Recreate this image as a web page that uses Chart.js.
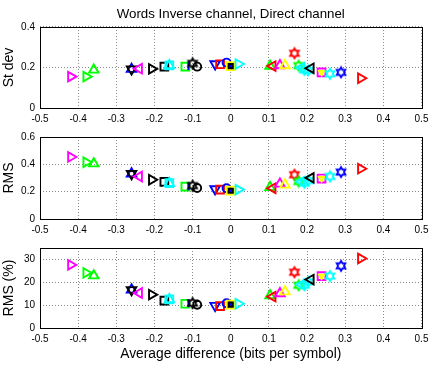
<!DOCTYPE html>
<html>
<head>
<meta charset="utf-8">
<script src="https://cdn.jsdelivr.net/npm/chart.js@4.4.0/dist/chart.umd.min.js"></script>
<style>
  body { margin: 0; background: #fff; }
  #wrap { position: relative; width: 434px; height: 369px; }
  canvas { position: absolute; left: 0; }
</style>
</head>
<body>
<div id="wrap">
  <canvas id="sdChart" width="434" height="126" style="top:0px"></canvas>
  <canvas id="rmsChart" width="434" height="111" style="top:126px"></canvas>
  <canvas id="pctChart" width="434" height="132" style="top:237px"></canvas>
</div>
<script>
// one entry per plotted item, same order in every array
const avgDiff = [-0.419, -0.379, -0.359, -0.26, -0.26, -0.24, -0.207, -0.174, -0.161, -0.161,
  -0.119, -0.111, -0.1, -0.088, -0.041, -0.028, -0.011, 0, 0, 0.02,
  0.103, 0.11, 0.129, 0.142, 0.167, 0.178, 0.186, 0.193, 0.203, 0.21,
  0.238, 0.238, 0.26, 0.289, 0.341];
const stDev = [0.155, 0.155, 0.188, 0.192, 0.192, 0.194, 0.193, 0.204, 0.21, 0.21,
  0.204, 0.207, 0.22, 0.204, 0.217, 0.216, 0.224, 0.207, 0.207, 0.217,
  0.207, 0.207, 0.21, 0.21, 0.27, 0.209, 0.199, 0.188, 0.186, 0.196,
  0.176, 0.176, 0.169, 0.176, 0.147];
const rms = [0.454, 0.415, 0.405, 0.331, 0.331, 0.311, 0.287, 0.272, 0.262, 0.262,
  0.237, 0.24, 0.244, 0.227, 0.22, 0.215, 0.225, 0.207, 0.207, 0.215,
  0.232, 0.225, 0.257, 0.25, 0.324, 0.274, 0.274, 0.264, 0.281, 0.301,
  0.296, 0.296, 0.311, 0.343, 0.368];
const rmsPct = [27.6, 24.1, 22.9, 16.7, 16.7, 15.3, 14.6, 12.0, 12.5, 12.5,
  10.6, 10.9, 10.9, 10.2, 9.8, 9.6, 10.8, 10.2, 10.2, 10.6,
  14.2, 13.7, 15.1, 15.9, 24.4, 18.7, 19.0, 18.7, 20.2, 21.2,
  22.7, 22.7, 22.7, 27.2, 30.4];
const markers = ['>', '>', '^', '^', 'v', '<', '>', 's', 's', '^',
  's', '|', 'h', 'o', 'v', 's', 'o', 's', '.s', '>',
  '^', '<', '^', '^', 'h', 'h', '<', 'h', 'h', '<',
  's', '.v', 'h', 'h', '>'];
const colors = ['m', 'g', 'g', 'b', 'k', 'm', 'k', 'k', 'c', 'c',
  'g', 'b', 'k', 'k', 'b', 'r', 'b', 'y', 'k', 'c',
  'g', 'r', 'm', 'y', 'r', 'g', 'c', 'c', 'c', 'k',
  'm', 'y', 'c', 'b', 'r'];
const xTicks = [-0.5, -0.4, -0.3, -0.2, -0.1, 0, 0.1, 0.2, 0.3, 0.4, 0.5];
const sdTicks = [0, 0.2, 0.4];
const rmsTicks = [0, 0.2, 0.4, 0.6];
const pctTicks = [0, 10, 20, 30];

const RGB = { r: '#ff0000', g: '#00ff00', b: '#0000ff', c: '#00ffff', m: '#ff00ff', y: '#ffff00', k: '#000000' };
const FONT = 'Liberation Sans, Arial, Helvetica, sans-serif';

const hexCache = {};
function hexagram(color) {
  if (hexCache[color]) return hexCache[color];
  const c = document.createElement('canvas');
  c.width = c.height = 14;
  const g = c.getContext('2d');
  g.strokeStyle = color;
  g.lineWidth = 1.8;
  g.beginPath();
  for (let k = 0; k < 12; k++) {
    const a = -Math.PI / 2 + k * Math.PI / 6;
    const r = k % 2 ? 2.9 : 5;
    const px = 7 + r * Math.cos(a), py = 7 + r * Math.sin(a);
    if (k) g.lineTo(px, py); else g.moveTo(px, py);
  }
  g.closePath();
  g.stroke();
  hexCache[color] = c;
  return c;
}

function shape(m, col) {
  switch (m) {
    case '^': return { style: 'triangle', rot: 0, r: 5.5 };
    case '>': return { style: 'triangle', rot: 90, r: 5.5 };
    case 'v': return { style: 'triangle', rot: 180, r: 5.5 };
    case '<': return { style: 'triangle', rot: 270, r: 5.5 };
    case 's': return { style: 'rect', rot: 0, r: 5.5 };
    case 'o': return { style: 'circle', rot: 0, r: 4 };
    case '|': return { style: 'line', rot: 90, r: 4 };
    case '.s': return { style: 'rect', rot: 0, r: 3, fill: RGB.b };
    case '.v': return { style: 'triangle', rot: 180, r: 3 };
    case 'h': return { style: hexagram(col), rot: 0, r: 5 };
  }
}

const boxPlugin = {
  id: 'box',
  beforeDatasetsDraw(chart) {
    const a = chart.chartArea, ctx = chart.ctx;
    ctx.save();
    ctx.strokeStyle = '#000';
    ctx.lineWidth = 1;
    ctx.strokeRect(Math.round(a.left) + 0.5, Math.round(a.top) + 0.5,
      Math.round(a.right - a.left), Math.round(a.bottom - a.top));
    ctx.restore();
  }
};

function makeChart(id, yValues, yMax, yTicks, yLabel, cfg) {
  const shapes = markers.map((m, i) => shape(m, RGB[colors[i]]));
  const points = avgDiff.map((x, i) => ({ x: x, y: yValues[i] }));
  return new Chart(document.getElementById(id), {
    type: 'scatter',
    data: {
      datasets: [{
        data: points,
        pointStyle: shapes.map(s => s.style),
        pointRotation: shapes.map(s => s.rot),
        pointRadius: shapes.map(s => s.r),
        pointBorderColor: colors.map(c => RGB[c]),
        pointBackgroundColor: shapes.map(s => s.fill || 'rgba(0,0,0,0)'),
        pointBorderWidth: 1.9
      }]
    },
    options: {
      responsive: false,
      animation: false,
      events: [],
      layout: { padding: { left: 0, right: 12.5, top: cfg.padTop, bottom: 0 } },
      plugins: {
        legend: { display: false },
        tooltip: { enabled: false },
        title: cfg.title ? {
          display: true, text: cfg.title, fullSize: false, color: '#000',
          font: { family: FONT, size: 13.3, weight: 'normal' },
          padding: { top: 6, bottom: 5 }
        } : { display: false }
      },
      scales: {
        x: {
          type: 'linear', min: -0.5, max: 0.5,
          afterBuildTicks: s => { s.ticks = xTicks.map(v => ({ value: v })); },
          afterFit: s => { s.height = cfg.xHeight; },
          ticks: { color: '#000', font: { family: FONT, size: 10 }, padding: 5, maxRotation: 0, autoSkip: false,
            callback: v => String(v) },
          grid: { color: '#8a8a8a', lineWidth: 1, drawTicks: false },
          border: { display: false, dash: [1, 2] },
          title: cfg.xLabel ? {
            display: true, text: cfg.xLabel, color: '#000',
            font: { family: FONT, size: 13.8 }, padding: { top: 0, bottom: 7 }
          } : { display: false }
        },
        y: {
          type: 'linear', min: 0, max: yMax,
          afterBuildTicks: s => { s.ticks = yTicks.map(v => ({ value: v })); },
          afterFit: s => { s.width = 40; },
          ticks: { color: '#000', font: { family: FONT, size: 10 }, padding: 5, autoSkip: false,
            callback: v => String(v) },
          grid: { color: '#8a8a8a', lineWidth: 1, drawTicks: false },
          border: { display: false, dash: [1, 2] },
          title: { display: true, text: yLabel, color: '#000',
            font: { family: FONT, size: 14 }, padding: { top: 1, bottom: 0 } }
        }
      }
    },
    plugins: [boxPlugin]
  });
}

makeChart('sdChart', stDev, 0.4, sdTicks, 'St dev',
  { padTop: 0, xHeight: 18, title: 'Words Inverse channel, Direct channel' });
makeChart('rmsChart', rms, 0.6, rmsTicks, 'RMS', { padTop: 10, xHeight: 18 });
makeChart('pctChart', rmsPct, 35, pctTicks, 'RMS (%)',
  { padTop: 9, xHeight: 41, xLabel: 'Average difference (bits per symbol)' });
</script>
</body>
</html>
